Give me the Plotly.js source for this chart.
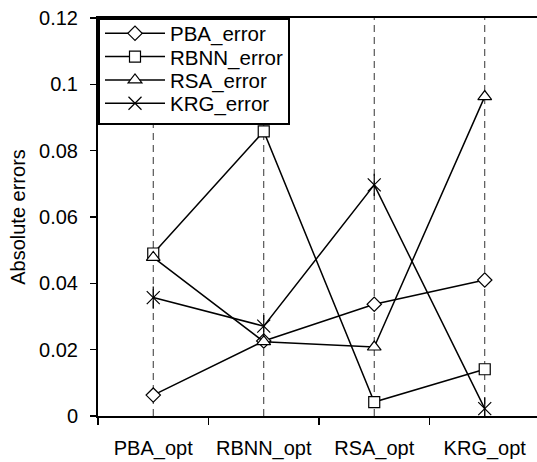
<!DOCTYPE html>
<html><head><meta charset="utf-8">
<script src="https://cdn.plot.ly/plotly-3.0.1.min.js"></script>
<style>html,body{margin:0;padding:0;background:#fff}</style>
</head><body>
<div id="chart" style="width:537px;height:462px"></div>
<script>
const categories = ["PBA_opt", "RBNN_opt", "RSA_opt", "KRG_opt"];
const pbaError  = [0.0063, 0.0226, 0.0337, 0.0410];
const rbnnError = [0.0490, 0.0858, 0.0042, 0.0141];
const rsaError  = [0.0478, 0.0224, 0.0208, 0.0963];
const krgError  = [0.0357, 0.0271, 0.0697, 0.0022];
const seriesNames = ["PBA_error", "RBNN_error", "RSA_error", "KRG_error"];
const yTicks = [0, 0.02, 0.04, 0.06, 0.08, 0.1, 0.12];

const font = {family: "Liberation Sans, Arial, sans-serif", size: 20, color: "#000"};
const legendFont = {family: "Liberation Sans, Arial, sans-serif", size: 20.5, color: "#000"};
function tr(name, y, symbol, size) {
  return {type: "scatter", mode: "lines+markers", name: name, x: categories, y: y,
    line: {color: "#000", width: 1.5},
    marker: {symbol: symbol, size: size, color: "#fff", line: {color: "#000", width: 1.2}}};
}
const traces = [
  tr(seriesNames[0], pbaError, "diamond", 11),
  tr(seriesNames[1], rbnnError, "square", 11),
  tr(seriesNames[2], rsaError, "triangle-up", 12),
  tr(seriesNames[3], krgError, "x-thin", 13),
  {type: "scatter", mode: "markers", x: categories, y: krgError, showlegend: false,
   marker: {symbol: "line-ns", size: 16, color: "#000", line: {color: "#000", width: 1.2}}}
];
const shapes = categories.map(c => ({type: "line", xref: "x", yref: "paper", x0: c, x1: c, y0: 0, y1: 1,
  line: {color: "#333", width: 1, dash: "7px,5px"}, layer: "below"}));

const layout = {
  width: 537, height: 462,
  margin: {l: 98, r: 0, t: 18, b: 46},
  paper_bgcolor: "#fff", plot_bgcolor: "#fff",
  font: font,
  showlegend: true,
  legend: {x: 0, y: 1, xanchor: "left", yanchor: "top", bgcolor: "#fff", bordercolor: "#000", borderwidth: 2,
    font: legendFont, itemwidth: 60, tracegroupgap: 0},
  xaxis: {type: "category", range: [-0.5, 3.473], tickson: "boundaries", ticks: "outside", ticklen: 7,
    tickcolor: "#000", tickwidth: 1.5, showgrid: false, showline: true, linecolor: "#000", linewidth: 2,
    mirror: true, ticklabelstandoff: 13, tickfont: font, zeroline: false},
  yaxis: {range: [0, 0.12], tickvals: yTicks, ticks: "outside", ticklen: 6, tickcolor: "#000", tickwidth: 1.5,
    showgrid: false, showline: true, linecolor: "#000", linewidth: 2, zeroline: false, tickfont: font,
    ticklabelstandoff: 8,
    title: {text: "Absolute errors", font: font, standoff: 8}},
  shapes: shapes
};
Plotly.newPlot("chart", traces, layout, {displayModeBar: false, staticPlot: true}).then(gd => {
  // tighten legend row spacing to match the reference's compact legend box
  const leg = gd.querySelector(".legend");
  if (!leg) return;
  const items = Array.from(leg.querySelectorAll(".traces"));
  const rowGap = 23.3, firstCenter = 34.3, boxBottom = 124.3;
  items.forEach((it, i) => {
    const t = it.querySelector("text");
    if (!t) return;
    const r = t.getBoundingClientRect();
    const cur = (r.top + r.bottom) / 2;
    const delta = firstCenter + i * rowGap - cur;
    const m = /translate\(\s*([-\d.]+)[ ,]+([-\d.]+)\s*\)/.exec(it.getAttribute("transform") || "");
    if (m) it.setAttribute("transform", "translate(" + m[1] + "," + (parseFloat(m[2]) + delta) + ")");
  });
  const bg = leg.querySelector("rect.bg");
  if (bg) {
    const br = bg.getBoundingClientRect();
    const h = parseFloat(bg.getAttribute("height"));
    bg.setAttribute("height", h + (boxBottom - br.bottom));
  }
});
</script>
</body></html>
